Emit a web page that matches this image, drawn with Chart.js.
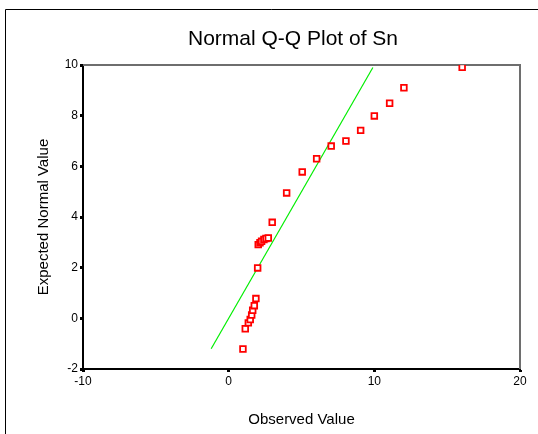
<!DOCTYPE html>
<html>
<head>
<meta charset="utf-8">
<script src="https://cdn.jsdelivr.net/npm/chart.js@4"></script>
<style>
  html, body { margin: 0; padding: 0; background: #fff; }
  #wrap { position: relative; width: 538px; height: 434px; }
</style>
</head>
<body>
<div id="wrap"><canvas id="qq" width="538" height="434"></canvas></div>
<script>
// observed values of Sn and their expected normal values
const observed = [0.98, 1.14, 1.35, 1.48, 1.58, 1.65, 1.76, 1.87, 1.99, 2.03, 2.15, 2.26, 2.42, 2.56, 2.72, 2.99, 3.98, 5.05, 6.04, 7.04, 8.05, 9.06, 10.0, 11.05, 12.03, 16.03];
const expected = [-1.21, -0.41, -0.18, -0.05, 0.13, 0.32, 0.50, 0.78, 1.99, 2.91, 2.98, 3.04, 3.11, 3.15, 3.17, 3.79, 4.95, 5.78, 6.30, 6.80, 7.00, 7.42, 7.99, 8.49, 9.10, 9.91];
const lineX = [-1.2, 9.9];
const lineY = [-1.2, 9.9];
const xTicks = [-10, 0, 10, 20];
const yTicks = [-2, 0, 2, 4, 6, 8, 10];

const FONT = 'Arial, "Liberation Sans", sans-serif';

const frame = {
  id: 'frame',
  beforeDatasetsDraw(chart) {
    const { ctx, chartArea: a } = chart;
    ctx.save();
    ctx.strokeStyle = '#6e6e6e';
    ctx.lineWidth = 2;
    ctx.beginPath();
    ctx.moveTo(a.left, a.top);
    ctx.lineTo(a.right, a.top);
    ctx.lineTo(a.right, a.bottom);
    ctx.stroke();
    ctx.restore();
  },
  afterDraw(chart) {
    const { ctx, chartArea: a } = chart;
    ctx.save();
    // outer frame
    ctx.strokeStyle = '#000';
    ctx.lineWidth = 1;
    ctx.beginPath();
    ctx.moveTo(5.5, 434);
    ctx.lineTo(5.5, 9.5);
    ctx.lineTo(538, 9.5);
    ctx.stroke();
    ctx.fillStyle = '#000';
    ctx.textAlign = 'center';
    ctx.textBaseline = 'middle';
    ctx.font = '21px ' + FONT;
    ctx.fillText('Normal Q-Q Plot of Sn', 293, 39);
    ctx.font = '15px ' + FONT;
    ctx.fillText('Observed Value', (a.left + a.right) / 2, 420);
    ctx.translate(44, (a.top + a.bottom) / 2);
    ctx.rotate(-Math.PI / 2);
    ctx.fillText('Expected Normal Value', 0, 0);
    ctx.restore();
  }
};

new Chart(document.getElementById('qq'), {
  type: 'scatter',
  data: {
    datasets: [
      {
        data: observed.map((x, i) => ({ x, y: expected[i] })),
        pointStyle: 'rect',
        radius: 4,
        borderColor: '#ff0000',
        backgroundColor: '#ffffff',
        borderWidth: 1.8,
        order: 1
      },
      {
        type: 'line',
        data: lineX.map((x, i) => ({ x, y: lineY[i] })),
        borderColor: '#00ee00',
        borderWidth: 1.2,
        pointRadius: 0,
        order: 2
      }
    ]
  },
  options: {
    responsive: false,
    animation: false,
    events: [],
    layout: { padding: { top: 65, right: 18, left: 0, bottom: 0 } },
    plugins: { legend: { display: false }, tooltip: { enabled: false }, title: { display: false } },
    scales: {
      x: {
        type: 'linear',
        min: -10, max: 20,
        afterBuildTicks: s => { s.ticks = xTicks.map(v => ({ value: v })); },
        afterFit: s => { s.height = 65; },
        grid: { drawOnChartArea: false, tickLength: 3, tickWidth: 3, tickColor: '#000' },
        border: { color: '#000', width: 2 },
        ticks: { color: '#000', font: { size: 12, family: FONT }, padding: 2, maxRotation: 0 }
      },
      y: {
        type: 'linear',
        min: -2, max: 10,
        afterBuildTicks: s => { s.ticks = yTicks.map(v => ({ value: v })); },
        afterFit: s => { s.width = 83; },
        grid: { drawOnChartArea: false, tickLength: 3, tickWidth: 3, tickColor: '#000' },
        border: { color: '#000', width: 2 },
        ticks: { color: '#000', font: { size: 12, family: FONT }, padding: 2 }
      }
    }
  },
  plugins: [frame]
});
</script>
</body>
</html>
